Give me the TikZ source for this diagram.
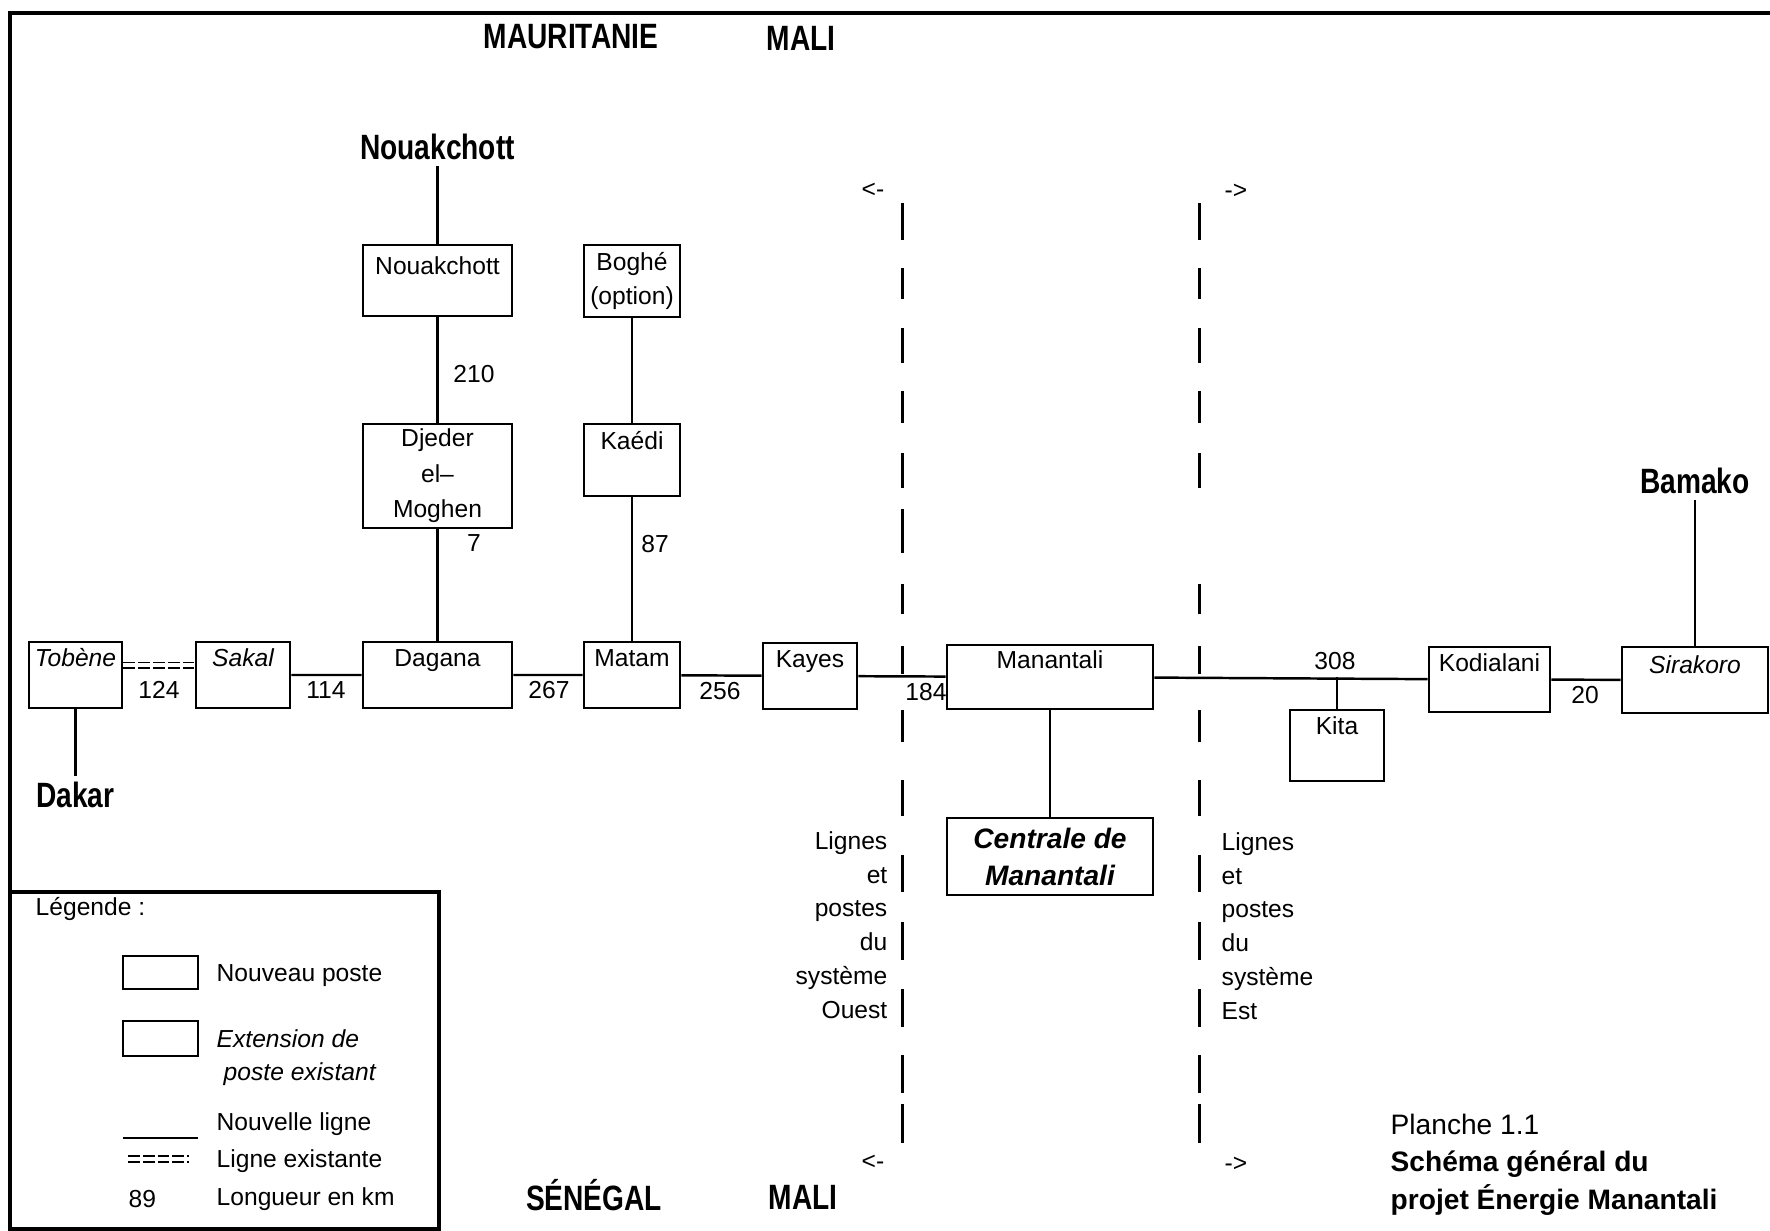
\documentclass[tikz,border=0pt]{standalone}
\usepackage{fontspec}
\setmainfont{Liberation Sans}
\usetikzlibrary{positioning}

\newcommand{\etroit}[1]{\scalebox{0.8}[1]{\bfseries #1}}

\tikzset{
  poste/.style={draw, line width=0.8pt, inner sep=0pt, text height=7pt, text depth=11.8pt, font=\fontsize{7}{9.6}\selectfont},
  boite/.style={draw, line width=0.8pt, inner sep=0pt, align=center, font=\fontsize{7}{10}\selectfont},
  ligne/.style={line width=0.7pt},
  existe/.style={line width=0.5pt, double, double distance=1pt, dash pattern=on 3.4pt off 0.8pt},
  km/.style={font=\fontsize{7}{8}\selectfont, inner sep=0pt},
  texte/.style={font=\fontsize{7}{9.6}\selectfont, inner sep=0pt},
  pays/.style={font=\fontsize{10}{12}\selectfont, inner sep=1.5pt},
  frontiere/.style={line width=0.85pt},
  cadre/.style={line width=0.9pt}
}

\begin{document}
\begin{tikzpicture}[x=0.01cm, y=-0.01cm]
\fill[white] (0,0) rectangle (1770,1231);
\useasboundingbox (0,0) rectangle (1770,1231);
\draw[cadre] (10,1231) -- (10,13) -- (1770,13);
\node[pays] (mauritanie) at (571,37) {\etroit{MAURITANIE}};
\node[pays] (malihaut) at (801,38) {\etroit{MALI}};
\node[pays] (senegal) at (594,1195) {\etroit{SÉNÉGAL}};
\node[pays] (malibas) at (803,1197) {\etroit{MALI}};
\node[pays] (nouakchott) at (437.5,147) {\etroit{Nouakchott}};
\node[pays] (dakar) at (75.5,795) {\etroit{Dakar}};
\node[pays] (bamako) at (1695,481) {\etroit{Bamako}};
\node[poste, minimum width=1.49cm, text height=8.4pt] (nkbox) at (437.5,280.5) {Nouakchott};
\node[boite, minimum width=1.49cm, minimum height=1.04cm, font=\fontsize{7}{10.1}\selectfont] (djeder) at (437.5,476) {Djeder\\el–\\Moghen};
\node[boite, minimum width=0.96cm, minimum height=0.72cm, font=\fontsize{7}{9.7}\selectfont] (boghe) at (632,281) {Boghé\\(option)};
\node[poste, minimum width=0.96cm, text height=7.25pt, text depth=13.23pt] (kaedi) at (632,460) {Kaédi};
\node[poste, minimum width=0.93cm] (tobene) at (75.5,675) {\itshape Tobène};
\node[poste, minimum width=0.94cm] (sakal) at (243,675) {\itshape Sakal};
\node[poste, minimum width=1.49cm] (dagana) at (437.5,675) {Dagana};
\node[poste, minimum width=0.96cm] (matam) at (632,675) {Matam};
\node[poste, minimum width=0.94cm] (kayes) at (810,676) {Kayes};
\node[poste, minimum width=2.06cm, text height=6.8pt, text depth=11.41pt] (mana) at (1050,677) {Manantali};
\node[boite, minimum width=2.06cm, minimum height=0.77cm, font=\fontsize{8}{10.5}\selectfont\bfseries\itshape] (centrale) at (1050,856.5) {Centrale de\\Manantali};
\node[poste, minimum width=0.94cm, text depth=13.2pt] (kita) at (1337,745.5) {Kita};
\node[poste, minimum width=1.21cm, text depth=11.49pt] (kodi) at (1489.5,679.5) {Kodialani};
\node[poste, minimum width=1.46cm, text height=7.5pt, text depth=11.28pt] (sira) at (1695,680) {\itshape Sirakoro};
\draw[ligne] (nouakchott) -- (nkbox);
\draw[ligne] (nkbox) -- (djeder);
\draw[ligne] (djeder) -- (dagana);
\draw[ligne] (boghe) -- (kaedi);
\draw[ligne] (kaedi) -- (matam);
\draw[ligne] (tobene) -- (dakar);
\draw[existe] ([yshift=2.8pt]tobene.east) -- ([yshift=2.8pt]sakal.west);
\draw[ligne] (sakal) -- (dagana) -- (matam) -- (kayes) -- (mana) -- (kodi) -- (sira);
\draw[ligne] (kita) -- (kita.north |- mana.east);
\draw[ligne] (mana) -- (centrale);
\draw[ligne] (bamako) -- (sira);
\node[km] (d210) at (474,374) {210};
\node[km] (d7) at (474,543) {7};
\node[km] (d87) at (655,544) {87};
\node[km] (d124) at (159,690) {124};
\node[km] (d114) at (326,690) {114};
\node[km] (d267) at (549,690) {267};
\node[km] (d256) at (720,691) {256};
\node[km] (d184) at (926,692) {184};
\node[km] (d308) at (1335,661) {308};
\node[km] (d20) at (1585,695) {20};
\foreach \a/\b in {203/240, 268/299, 328/363, 391/423, 453/488, 509/553, 584/614, 646/674, 710/742, 780/816, 855/892, 922/960, 989/1027, 1055/1093, 1104/1143}
  \draw[frontiere] (902,\a) -- (902,\b);
\foreach \a/\b in {203/240, 268/299, 328/363, 391/423, 453/488, 584/614, 646/674, 710/742, 780/816, 855/892, 922/960, 989/1027, 1055/1093, 1104/1143}
  \draw[frontiere] (1199,\a) -- (1199,\b);
\node[texte] (versouest) at (873,190) {<-};
\node[texte] (versest) at (1236,191) {->};
\node[texte] (versouestbas) at (873,1162) {<-};
\node[texte] (versestbas) at (1236,1164) {->};
\node[texte, anchor=east, align=right] (ouest) at (888,925) {Lignes\\et\\postes\\du\\système\\Ouest};
\node[texte, anchor=west, align=left] (est) at (1221,926) {Lignes\\et\\postes\\du\\système\\Est};
\node[texte, anchor=west, align=left, font=\fontsize{8}{10.7}\selectfont] (planche) at (1390,1164.5) {Planche 1.1\\\textbf{Schéma général du}\\\textbf{projet Énergie Manantali}};
\draw[cadre] (10,892) rectangle (439,1229);
\node[texte, anchor=west] (legende) at (35,909) {Légende :};
\node[boite, minimum width=0.75cm, minimum height=0.33cm] (legnouveau) at (160.5,972.5) {};
\node[texte, anchor=west] (txtnouveau) at (216,976) {Nouveau poste};
\node[boite, minimum width=0.75cm, minimum height=0.35cm] (legextension) at (160.5,1038.5) {};
\node[texte, anchor=west, align=left, font=\fontsize{7}{9.4}\selectfont\itshape] (txtextension) at (216,1058) {Extension de\\\hspace*{2pt}poste existant};
\coordinate (nouvA) at (123,1138);
\coordinate (nouvB) at (198,1138);
\draw[ligne] (nouvA) -- (nouvB);
\node[texte, anchor=west] (txtnouvelle) at (216,1124) {Nouvelle ligne};
\coordinate (existA) at (128,1159);
\coordinate (existB) at (189,1159);
\draw[existe] (existA) -- (existB);
\node[texte, anchor=west] (txtexistante) at (216,1161) {Ligne existante};
\node[km, anchor=west] (leg89) at (128,1199) {89};
\node[texte, anchor=west] (txtlongueur) at (216,1199) {Longueur en km};
\end{tikzpicture}
\end{document}
